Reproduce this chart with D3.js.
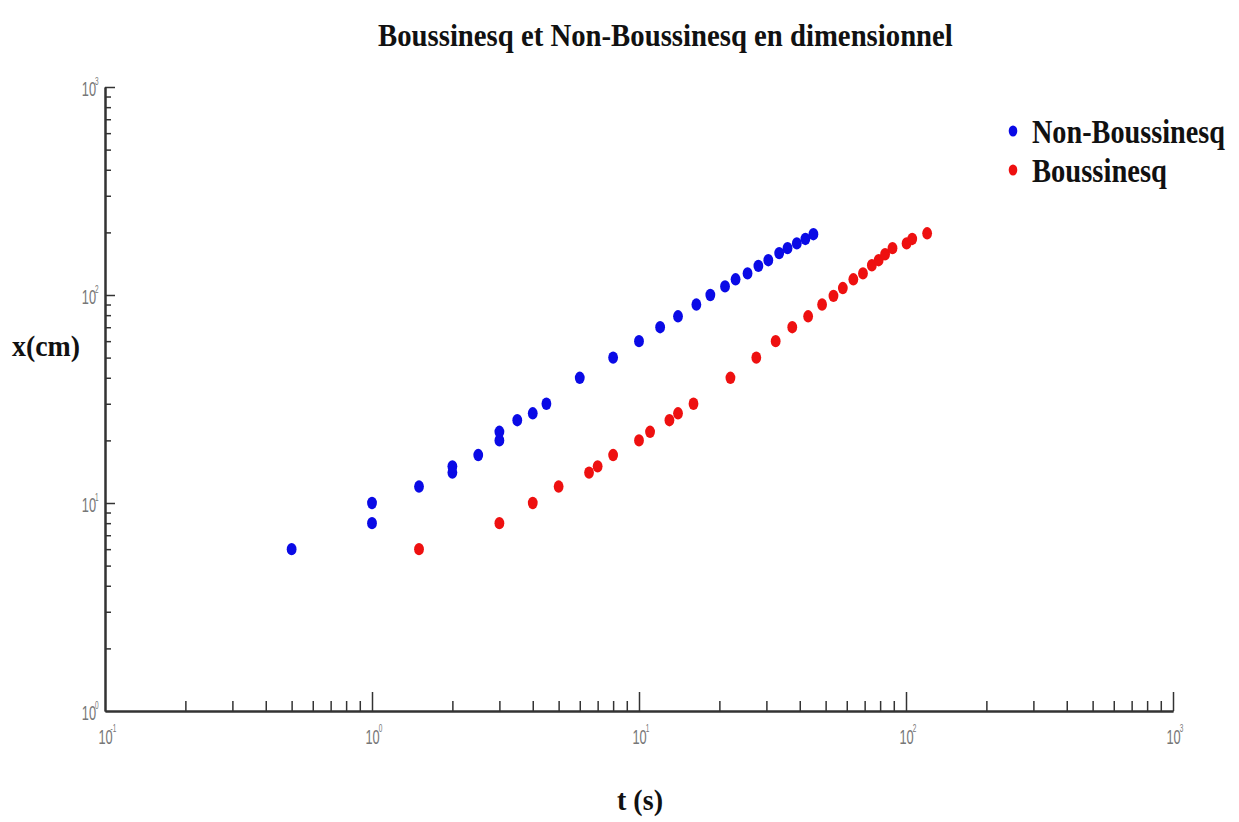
<!DOCTYPE html>
<html>
<head>
<meta charset="utf-8">
<script src="https://cdn.jsdelivr.net/npm/d3@7"></script>
<style>
  html, body { margin: 0; padding: 0; background: #fff; }
  svg { display: block; }
</style>
</head>
<body>
<script>
// Front position x (cm) versus time t (s), log-log
const nbT = [0.5, 1, 1, 1.5, 2, 2, 2.5, 3, 3, 3.5, 4, 4.5, 6, 8, 10, 12, 14, 16.4, 18.5, 21, 23, 25.5, 28, 30.5, 33.5, 36, 39, 42, 45];
const nbX = [6, 8, 10, 12, 14, 15, 17, 20, 22, 25, 27, 30, 40, 50, 60, 70, 79, 90, 100, 110, 119, 127, 138, 147, 159, 168, 177, 186, 196];

const bT = [1.5, 3, 4, 5, 6.5, 7, 8, 10, 11, 13, 14, 16, 22, 27.5, 32.5, 37.5, 43, 48.5, 53.5, 58, 63.5, 69, 74.5, 79, 83.5, 89, 100.5, 105.5, 120];
const bX = [6, 8, 10, 12, 14, 15, 17, 20, 22, 25, 27, 30, 40, 50, 60, 70, 79, 90, 99, 108, 119, 127, 139, 147, 157, 168, 177, 186, 198];

const seriesNames = ["Non-Boussinesq", "Boussinesq"];
const seriesColors = ["#0a0ae6", "#ee1010"];

const xDecades = [0.1, 1, 10, 100, 1000];
const xExponents = ["-1", "0", "1", "2", "3"];
const yDecades = [1, 10, 100, 1000];
const yExponents = ["0", "1", "2", "3"];

const titleText = "Boussinesq et Non-Boussinesq en dimensionnel";
const xLabel = "t (s)";
const yLabel = "x(cm)";

const W = 1239, H = 822;
const svg = d3.select("body").append("svg").attr("width", W).attr("height", H);

const x = d3.scaleLog().domain([0.1, 1000]).range([105, 1173]);
const y = d3.scaleLog().domain([1, 1000]).range([711, 87]);

const minorOf = decades => decades.slice(0, -1).flatMap(d => d3.range(2, 10).map(k => d * k));

const axisColor = "#333";
const labelColor = "#777";
const sans = "'Liberation Sans', Arial, sans-serif";
const serif = "'Liberation Serif', 'Times New Roman', serif";

// x axis: minor ticks, then major ticks with labels
const gxMinor = svg.append("g").attr("transform", `translate(0,${y(1)})`)
  .call(d3.axisBottom(x).tickValues(minorOf(xDecades)).tickSize(-10).tickSizeOuter(0).tickFormat(""));
const gx = svg.append("g").attr("transform", `translate(0,${y(1)})`)
  .call(d3.axisBottom(x).tickValues(xDecades).tickSize(-19).tickSizeOuter(0).tickFormat(""));

// y axis
const gyMinor = svg.append("g").attr("transform", `translate(${x(0.1)},0)`)
  .call(d3.axisLeft(y).tickValues(minorOf(yDecades)).tickSize(-6).tickSizeOuter(0).tickFormat(""));
const gy = svg.append("g").attr("transform", `translate(${x(0.1)},0)`)
  .call(d3.axisLeft(y).tickValues(yDecades).tickSize(-10).tickSizeOuter(0).tickFormat(""));

[gxMinor, gx, gyMinor, gy].forEach(g => {
  g.selectAll("path.domain").attr("stroke", axisColor).attr("stroke-width", 2);
  g.selectAll(".tick line").attr("stroke", axisColor).attr("stroke-width", 1.5);
  g.selectAll(".tick text").remove();
});
gx.selectAll(".tick").filter(d => d === 0.1).select("line").remove();
gy.selectAll(".tick").filter(d => d === 1).select("line").remove();

// power-of-ten labels in a narrow sans face
function tenLabel(g, transform, anchor) {
  g.append("text")
    .attr("font-family", sans)
    .attr("font-size", 20)
    .attr("fill", labelColor)
    .attr("text-anchor", anchor)
    .attr("transform", transform + " scale(0.64,1)")
    .text("10");
}
function expLabel(g, transform, text) {
  g.append("text")
    .attr("font-family", sans)
    .attr("font-size", 10)
    .attr("fill", labelColor)
    .attr("transform", transform + " scale(0.65,1)")
    .text(text);
}

gx.selectAll(".tick").each(function (d, i) {
  const t = d3.select(this);
  tenLabel(t, "translate(0,33)", "middle");
  expLabel(t, "translate(8,21)", xExponents[i]);
});

gy.selectAll(".tick").each(function (d, i) {
  const t = d3.select(this);
  tenLabel(t, "translate(-9,8)", "end");
  expLabel(t, "translate(-6.5,-3)", yExponents[i]);
});

// data points
const series = [
  { t: nbT, v: nbX, color: seriesColors[0] },
  { t: bT, v: bX, color: seriesColors[1] }
];
series.forEach(s => {
  svg.append("g").selectAll("ellipse")
    .data(s.t.map((t, i) => [t, s.v[i]]))
    .join("ellipse")
    .attr("cx", d => x(d[0]))
    .attr("cy", d => y(d[1]))
    .attr("rx", 4.9)
    .attr("ry", 6.2)
    .attr("fill", s.color);
});

// condensed bold serif text: squeezed horizontally to a given width
function narrowText(str, left, baseline, size, width) {
  const t = svg.append("text")
    .attr("font-family", serif).attr("font-weight", "bold").attr("font-size", size)
    .attr("fill", "#111")
    .text(str);
  const natural = t.node().getComputedTextLength();
  t.attr("transform", `translate(${left},${baseline}) scale(${width / natural},1)`);
  return t;
}

narrowText(titleText, 378, 46, 32, 575);
narrowText(xLabel, 617, 810, 30, 46);
narrowText(yLabel, 12, 356, 30, 68);

// legend
const legendY = [131, 170];
const legendW = [193, 135];
seriesNames.forEach((name, i) => {
  svg.append("ellipse")
    .attr("cx", 1013).attr("cy", legendY[i])
    .attr("rx", 4.3).attr("ry", 5.5)
    .attr("fill", seriesColors[i]);
  narrowText(name, 1032, legendY[i] + 12, 33, legendW[i]);
});
</script>
</body>
</html>
